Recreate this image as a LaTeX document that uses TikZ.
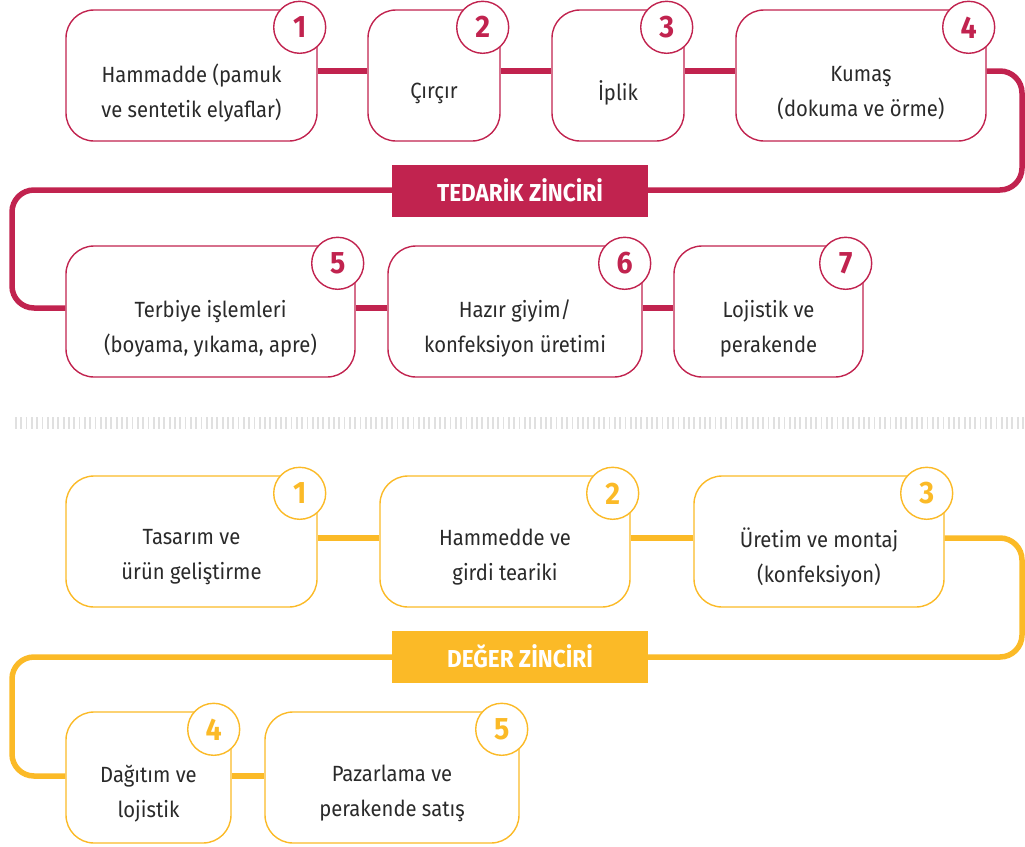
\documentclass[tikz,border=0pt]{standalone}
\usepackage{fontspec}
\setmainfont{Fira Sans}[FakeStretch=0.92]
\definecolor{crim}{HTML}{C1234F}
\definecolor{gold}{HTML}{FBBA27}
\definecolor{ink}{HTML}{2A2A2A}
\definecolor{sepgray}{HTML}{E0E0E0}
\begin{document}
\begin{tikzpicture}[x=1pt,y=-1pt,
  box/.style={draw=#1, line width=1.4pt, rounded corners=28pt, fill=white, inner sep=0pt, minimum height=131pt},
  num/.style={circle, draw=#1, line width=1.4pt, fill=white, minimum size=52pt, inner sep=0pt, text=#1, font=\fontsize{31}{31}\selectfont\bfseries},
  txt/.style={align=center, text=ink, inner sep=0pt, font=\fontsize{22}{35}\selectfont},
  link/.style={draw=#1, line width=5.5pt},
  tag/.style={fill=#1, text=white, minimum width=256pt, minimum height=52pt, inner sep=0pt, font=\fontsize{24.5}{24.5}\selectfont\bfseries}
]
\useasboundingbox (0,0) rectangle (1025,846);

% ---------- TEDARIK ZINCIRI ----------
\node[box=crim, minimum width=251pt] (b1) at (191.5,75.5) {};
\node[box=crim, minimum width=132pt] (b2) at (434,75.5) {};
\node[box=crim, minimum width=132pt] (b3) at (618,75.5) {};
\node[box=crim, minimum width=250pt] (b4) at (861,75.5) {};
\node[box=crim, minimum width=289pt] (b5) at (210.5,311.5) {};
\node[box=crim, minimum width=254pt] (b6) at (515,311.5) {};
\node[box=crim, minimum width=189pt] (b7) at (768.5,311.5) {};

\node[txt] (t1) at (191.5,93) {Hammadde (pamuk\\ve sentetik elyaflar)};
\node[txt] (t2) at (434,93) {Çırçır};
\node[txt] (t3) at (618,93) {İplik};
\node[txt] (t4) at (861,93) {Kumaş\\(dokuma ve örme)};
\node[txt] (t5) at (210.5,328.5) {Terbiye işlemleri\\(boyama, yıkama, apre)};
\node[txt] (t6) at (515,328.5) {Hazır giyim/\\konfeksiyon üretimi};
\node[txt] (t7) at (768.5,328.5) {Lojistik ve\\perakende};

\draw[link=crim] ([yshift=4.5pt]b1.east) -- ([yshift=4.5pt]b2.west);
\draw[link=crim] ([yshift=4.5pt]b2.east) -- ([yshift=4.5pt]b3.west);
\draw[link=crim] ([yshift=4.5pt]b3.east) -- ([yshift=4.5pt]b4.west);
\draw[link=crim] ([yshift=3.5pt]b5.east) -- ([yshift=3.5pt]b6.west);
\draw[link=crim] ([yshift=3.5pt]b6.east) -- ([yshift=3.5pt]b7.west);

\coordinate (ra) at (1022,71);
\coordinate (rb) at (1022,190);
\coordinate (la) at (12,190);
\coordinate (lb) at (12,308);
\draw[link=crim, rounded corners=22pt] ([yshift=4.5pt]b4.east) -- (ra) -- (rb) -- (la) -- (lb) -- ([yshift=3.5pt]b5.west);
\node[tag=crim] (lab1) at (520,190.5) {TEDARİK ZİNCİRİ};

\foreach \b/\n in {b1/1,b2/2,b3/3,b4/4,b5/5,b6/6,b7/7}
  \node[num=crim] (n\b) at ([xshift=-18pt,yshift=-18pt]\b.north east) {\n};

% ---------- separator ----------
\draw[sepgray, line width=12pt, dash pattern=on 1.8pt off 3.5pt] (15,423) -- (1025,423);

% ---------- DEGER ZINCIRI ----------
\node[box=gold, minimum width=251pt] (c1) at (191.5,541.5) {};
\node[box=gold, minimum width=250pt] (c2) at (505,541.5) {};
\node[box=gold, minimum width=250pt] (c3) at (819,541.5) {};
\node[box=gold, minimum width=165pt] (c4) at (148.5,777.5) {};
\node[box=gold, minimum width=254pt] (c5) at (392,777.5) {};

\node[txt] (u1) at (191.5,557.5) {Tasarım ve\\ürün geliştirme};
\node[txt] (u2) at (505,557.5) {Hammedde ve\\girdi teariki};
\node[txt] (u3) at (819,557.5) {Üretim ve montaj\\(konfeksiyon)};
\node[txt] (u4) at (148.5,793.5) {Dağıtım ve\\lojistik};
\node[txt] (u5) at (392,793.5) {Pazarlama ve\\perakende satış};

\draw[link=gold] ([yshift=3.5pt]c1.east) -- ([yshift=3.5pt]c2.west);
\draw[link=gold] ([yshift=3.5pt]c2.east) -- ([yshift=3.5pt]c3.west);
\draw[link=gold] ([yshift=1.5pt]c4.east) -- ([yshift=1.5pt]c5.west);

\coordinate (rc) at (1022,538);
\coordinate (rd) at (1022,657);
\coordinate (lc) at (12,657);
\coordinate (ld) at (12,776);
\draw[link=gold, rounded corners=22pt] ([yshift=3.5pt]c3.east) -- (rc) -- (rd) -- (lc) -- (ld) -- ([yshift=1.5pt]c4.west);
\node[tag=gold] (lab2) at (520,656.5) {DEĞER ZİNCİRİ};

\foreach \b/\n in {c1/1,c2/2,c3/3,c4/4,c5/5}
  \node[num=gold] (n\b) at ([xshift=-18pt,yshift=-18pt]\b.north east) {\n};
\end{tikzpicture}
\end{document}
